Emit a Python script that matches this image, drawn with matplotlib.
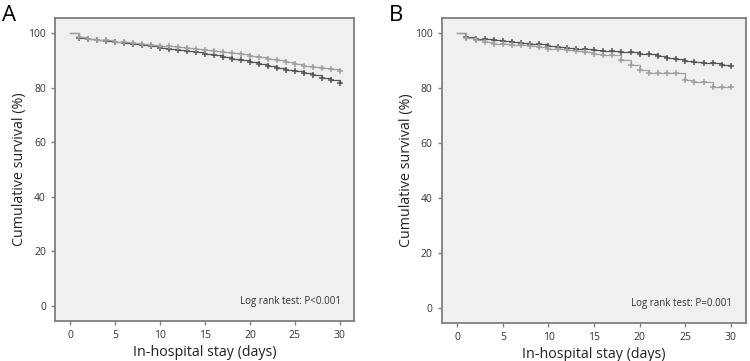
import numpy as np
import matplotlib.pyplot as plt

plt.rcParams['font.family'] = ['Open Sans', 'DejaVu Sans']

days = list(range(31))

# panel A, cumulative survival (%) at each day
a_light = [100, 98.4, 98.0, 97.6, 97.3, 96.9, 96.6, 96.3, 96.0, 95.7, 95.4,
           95.1, 94.8, 94.4, 94.1, 93.8, 93.4, 93.0, 92.7, 92.3, 91.7,
           91.2, 90.6, 90.0, 89.4, 88.5, 88.1, 87.6, 87.1, 86.7, 86.2]
a_dark = [100, 98.2, 97.8, 97.4, 97.0, 96.6, 96.2, 95.9, 95.5, 95.1, 94.7,
          94.3, 93.9, 93.4, 93.0, 92.5, 91.9, 91.3, 90.6, 90.0, 89.3,
          88.6, 88.0, 87.3, 86.6, 86.0, 85.3, 84.6, 83.7, 82.9, 81.8]

# panel B
b_light = [100, 98.4, 97.4, 96.8, 96.2, 96.0, 95.8, 95.6, 95.2, 94.8, 94.4,
           94.1, 93.8, 93.6, 93.0, 92.6, 91.9, 91.9, 90.1, 88.3, 86.7,
           85.5, 85.5, 85.5, 85.5, 82.8, 82.2, 82.2, 80.3, 80.3, 80.3]
b_dark = [100, 98.6, 98.0, 97.8, 97.4, 97.1, 96.8, 96.6, 96.2, 95.9, 95.4,
          95.0, 94.6, 94.4, 94.1, 93.8, 93.5, 93.4, 93.2, 93.0, 92.6,
          92.3, 91.6, 91.1, 90.7, 89.9, 89.5, 89.3, 89.1, 88.3, 87.9]

panels = [('A', a_light, a_dark, 'Log rank test: P<0.001', [0.0733, 0.111, 0.399, 0.839]),
          ('B', b_light, b_dark, 'Log rank test: P=0.001', [0.589, 0.105, 0.405, 0.845])]

light_col = '#a0a0a0'
dark_col = '#555555'

fig = plt.figure(figsize=(7.5, 3.61), dpi=100)

for letter, light, dark, note, rect in panels:
    ax = fig.add_axes(rect)
    ax.set_facecolor('#f0f0f0')
    for vals, col, z in [(dark, dark_col, 2), (light, light_col, 3)]:
        ax.step(days, vals, where='post', color=col, lw=0.9, zorder=z)
        ax.plot(days[1:], vals[1:], ls='none', marker='+', ms=5, mew=1.1,
                color=col, zorder=z)
    ax.set_xlim(-1.7, 31.6)
    ax.set_ylim(-5.5, 105.5)
    ax.set_xticks([0, 5, 10, 15, 20, 25, 30])
    ax.set_yticks([0, 20, 40, 60, 80, 100])
    ax.tick_params(labelsize=7.5, colors='#808080', labelcolor='#333333',
                   length=3, width=1)
    for s in ax.spines.values():
        s.set_color('#7f7f7f')
        s.set_linewidth(1.3)
    ax.set_xlabel('In-hospital stay (days)', fontsize=10.3, color='#222222', labelpad=3)
    ax.set_ylabel('Cumulative survival (%)', fontsize=10.3, color='#222222', labelpad=1)
    ax.text(0.955, 0.045, note, transform=ax.transAxes, ha='right', va='bottom',
            fontsize=7, color='#333333')
    fig.text(rect[0] - 0.070, 0.985, letter, fontsize=16, va='top', ha='left')

fig.savefig('out.png', dpi=100)
